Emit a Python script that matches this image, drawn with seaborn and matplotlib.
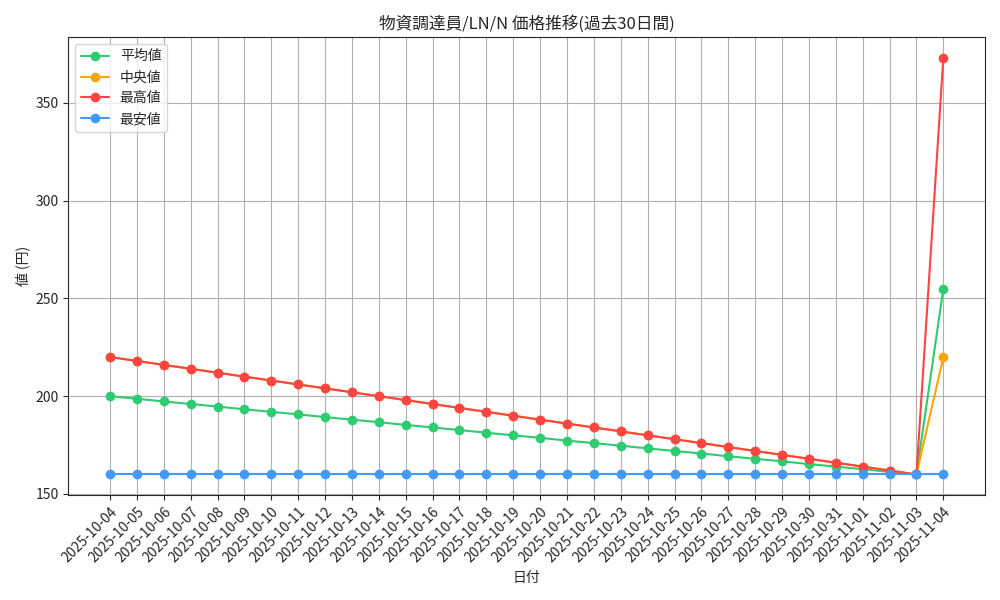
import pandas as pd
import seaborn as sns
import matplotlib.pyplot as plt

dates = ['2025-10-04', '2025-10-05', '2025-10-06', '2025-10-07', '2025-10-08', '2025-10-09',
         '2025-10-10', '2025-10-11', '2025-10-12', '2025-10-13', '2025-10-14', '2025-10-15',
         '2025-10-16', '2025-10-17', '2025-10-18', '2025-10-19', '2025-10-20', '2025-10-21',
         '2025-10-22', '2025-10-23', '2025-10-24', '2025-10-25', '2025-10-26', '2025-10-27',
         '2025-10-28', '2025-10-29', '2025-10-30', '2025-10-31', '2025-11-01', '2025-11-02',
         '2025-11-03', '2025-11-04']
mean_vals = [200.0, 198.7, 197.3, 196.0, 194.7, 193.3, 192.0, 190.7, 189.3, 188.0, 186.7,
             185.3, 184.0, 182.7, 181.3, 180.0, 178.7, 177.3, 176.0, 174.7, 173.3, 172.0,
             170.7, 169.3, 168.0, 166.7, 165.3, 164.0, 162.7, 161.3, 160.0, 255.0]
median_vals = [220, 218, 216, 214, 212, 210, 208, 206, 204, 202, 200, 198, 196, 194, 192, 190,
               188, 186, 184, 182, 180, 178, 176, 174, 172, 170, 168, 166, 164, 162, 160, 220]
max_vals = [220, 218, 216, 214, 212, 210, 208, 206, 204, 202, 200, 198, 196, 194, 192, 190,
            188, 186, 184, 182, 180, 178, 176, 174, 172, 170, 168, 166, 164, 162, 160, 373]
min_vals = [160] * 32

sns.set_style('ticks')
plt.rcParams['font.family'] = ['Noto Sans CJK JP', 'DejaVu Sans']

fig, ax = plt.subplots(figsize=(10, 6), dpi=100)
series = [('平均値', mean_vals, '#2ecc71'), ('中央値', median_vals, '#ffa500'),
          ('最高値', max_vals, '#ff4444'), ('最安値', min_vals, '#4499ff')]
for name, vals, color in series:
    sns.lineplot(x=dates, y=vals, ax=ax, label=name, color=color, marker='o',
                 markersize=7, markeredgewidth=0, linewidth=1.5, sort=False)

ax.grid(True, color='#b0b0b0', linewidth=0.8)
ax.set_title('物資調達員/LN/N 価格推移(過去30日間)', fontsize=12)
ax.set_xlabel('日付')
ax.set_ylabel('値 (円)')
ax.tick_params(axis='x', rotation=45)
for lbl in ax.get_xticklabels():
    lbl.set_ha('right')
    lbl.set_rotation_mode('anchor')
ax.legend(loc='upper left')
plt.tight_layout()
plt.savefig('out.png')
